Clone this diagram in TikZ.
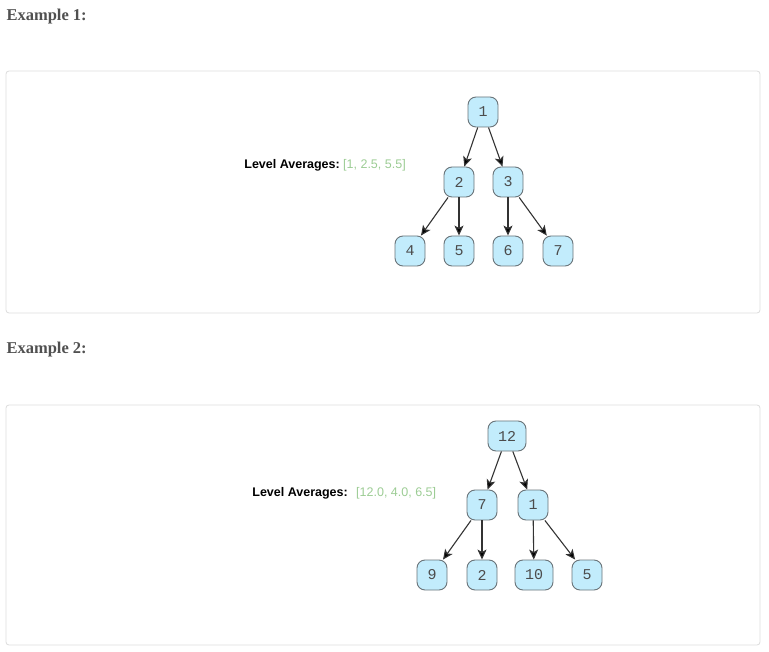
\documentclass[tikz,border=0pt]{standalone}
\usepackage{fontspec}
\setmainfont{Liberation Serif}
\setsansfont{Liberation Sans}
\setmonofont{Liberation Mono}
\usepackage{xcolor}
\usetikzlibrary{arrows.meta,positioning}
\definecolor{nodefill}{HTML}{C2ECFC}
\definecolor{nodeline}{HTML}{6A7479}
\definecolor{avggreen}{HTML}{9CCC94}
\definecolor{headgray}{HTML}{505050}
\definecolor{panelline}{HTML}{DCDCDC}

\begin{document}
\begin{tikzpicture}[x=1pt,y=-1pt,>={Stealth[length=10pt,width=9pt,inset=2.5pt]},
    tree node/.style={draw=nodeline,line width=0.9pt,fill=nodefill,rounded corners=8pt,minimum width=30pt,minimum height=30pt,inner xsep=10pt,font=\ttfamily\fontsize{15}{15}\selectfont,text=black!70},
    panel/.style={draw=panelline,line width=0.8pt,rounded corners=3pt},
    heading/.style={anchor=west,text=headgray,font=\rmfamily\bfseries\fontsize{16.5}{16.5}\selectfont},
    avg label/.style={anchor=east,inner sep=0pt,font=\sffamily\bfseries\fontsize{12.5}{12.5}\selectfont},
    avg value/.style={anchor=west,inner sep=0pt,text=avggreen,font=\sffamily\fontsize{12.5}{12.5}\selectfont}]
    \useasboundingbox (0,0) rectangle (769,652);

    % example 1
    \node[heading] (h1) at (3,17) {Example 1:};
    \draw[panel] (6,71) rectangle (760,313);
    \node[avg label] (l1) at (340,165) {Level Averages:};
    \node[avg value] (v1) at (343,165) {[1, 2.5, 5.5]};

    \node[tree node] (a1) at (483,112) {1};
    \node[tree node] (a2) at (459,182) {2};
    \node[tree node] (a3) at (508,182) {3};
    \node[tree node] (a4) at (410,251) {4};
    \node[tree node] (a5) at (459,251) {5};
    \node[tree node] (a6) at (508,251) {6};
    \node[tree node] (a7) at (558,251) {7};

    \path[->,draw=black!80,line width=1.1pt]
        (a1) edge (a2)
        (a1) edge (a3)
        (a2) edge (a4)
        (a2) edge (a5)
        (a3) edge (a6)
        (a3) edge (a7)
        ;

    % example 2
    \node[heading] (h2) at (3,350) {Example 2:};
    \draw[panel] (6,405) rectangle (760,645);
    \node[avg label] (l2) at (348,493) {Level Averages:};
    \node[avg value] (v2) at (356,493) {[12.0, 4.0, 6.5]};

    \node[tree node] (b1) at (507,436) {12};
    \node[tree node] (b2) at (482,505) {7};
    \node[tree node] (b3) at (533,505) {1};
    \node[tree node] (b4) at (432,575) {9};
    \node[tree node] (b5) at (482,575) {2};
    \node[tree node] (b6) at (534,575) {10};
    \node[tree node] (b7) at (587,575) {5};

    \path[->,draw=black!80,line width=1.1pt]
        (b1) edge (b2)
        (b1) edge (b3)
        (b2) edge (b4)
        (b2) edge (b5)
        (b3) edge (b6)
        (b3) edge (b7)
        ;
\end{tikzpicture}
\end{document}
